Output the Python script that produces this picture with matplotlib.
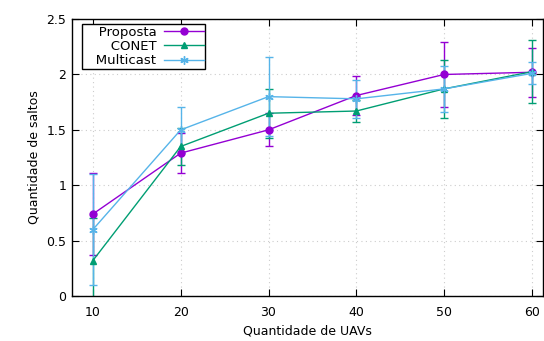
import numpy as np
import matplotlib
matplotlib.use("Agg")
import matplotlib.pyplot as plt
from matplotlib.lines import Line2D

# dados
uavs = [10, 20, 30, 40, 50, 60]

proposta = [0.74, 1.29, 1.50, 1.81, 2.00, 2.02]
proposta_err = [0.37, 0.18, 0.15, 0.18, 0.29, 0.22]

conet = [0.32, 1.35, 1.65, 1.67, 1.87, 2.025]
conet_err = [0.38, 0.17, 0.22, 0.10, 0.26, 0.285]

multicast = [0.60, 1.50, 1.80, 1.78, 1.87, 2.01]
multicast_err = [0.50, 0.21, 0.36, 0.17, 0.21, 0.10]

yticks = [0, 0.5, 1, 1.5, 2, 2.5]
xticks = [10, 20, 30, 40, 50, 60]

plt.rcParams['font.family'] = ['DejaVu Sans']

fig = plt.figure(figsize=(5.44, 3.41), dpi=100)
ax = fig.add_axes([0.132, 0.132, 0.866, 0.812])

series = [
    ("Proposta", proposta, proposta_err, "#9400d3", "o", 5),
    ("CONET", conet, conet_err, "#009e73", "^", 4),
    ("Multicast", multicast, multicast_err, "#56b4e9", (6, 2, 0), 6),
]

handles = []
for label, vals, err, color, marker, ms in series:
    ax.errorbar(uavs, vals, yerr=err, color=color, marker=marker, markersize=ms,
                linewidth=1, elinewidth=1, capsize=3, capthick=1,
                markeredgewidth=1)
    # espaços à esquerda só para alargar a caixa da legenda
    handles.append(Line2D([], [], color=color, marker=marker, markersize=ms,
                          linewidth=1, markeredgewidth=1, label="   " + label))

ax.set_xlim(7.6, 61.25)
ax.set_ylim(0, 2.5)
ax.set_xticks(xticks)
ax.set_yticks(yticks)
ax.set_yticklabels(["%g" % v for v in yticks])
ax.tick_params(direction="in", top=True, right=True, labelsize=9, length=5)
ax.tick_params(axis="x", pad=7)
ax.tick_params(axis="y", pad=4)
ax.grid(True, color="#cccccc", linestyle=(0, (1, 3)), linewidth=0.8)
for s in ax.spines.values():
    s.set_linewidth(1)

ax.set_xlabel("Quantidade de UAVs", fontsize=9)
ax.set_ylabel("Quantidade de saltos", fontsize=9)

leg = ax.legend(handles=handles, loc="upper left", bbox_to_anchor=(0.021, 0.982),
                markerfirst=False, fontsize=9.5, fancybox=False, numpoints=1,
                framealpha=1, edgecolor="black", borderaxespad=0,
                handlelength=3, labelspacing=0.1, borderpad=0.12,
                handletextpad=0.6)
leg.get_frame().set_linewidth(1)

fig.savefig("out.png", dpi=100)
